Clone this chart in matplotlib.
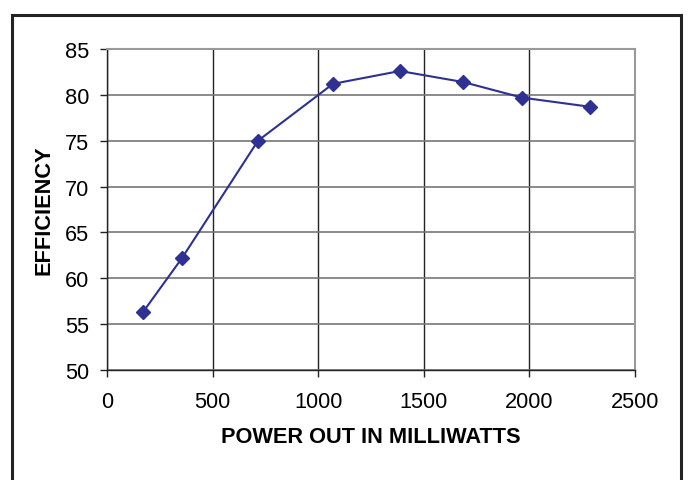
import matplotlib
matplotlib.use("Agg")
import matplotlib.pyplot as plt
from matplotlib.patches import Rectangle

plt.rcParams['font.family'] = ['Liberation Sans', 'DejaVu Sans']

power_mw = [170, 355, 715, 1070, 1387, 1686, 1965, 2287]
efficiency = [56.3, 62.2, 75.0, 81.2, 82.6, 81.4, 79.7, 78.7]

fig = plt.figure(figsize=(6.89, 4.81), dpi=100)
W, H = 689, 481

# outer frame (bottom runs off the image)
fig.patches.append(Rectangle((12 / W, -0.05), (681 - 12) / W, (473 - 8) / H + 0.05,
                             transform=fig.transFigure, fill=False,
                             edgecolor='#222222', linewidth=2.2))

ax = fig.add_axes([107 / W, 1 - 371 / H, (635 - 107) / W, (371 - 50) / H])
ax.plot(power_mw, efficiency, color='#2e3192', linewidth=1.5,
        marker='D', markersize=7, markerfacecolor='#2e3192', markeredgecolor='#2e3192')

ax.set_xlim(0, 2500)
ax.set_ylim(50, 85)
ax.set_xticks(range(0, 2501, 500))
ax.set_yticks(range(50, 86, 5))
ax.xaxis.grid(True, color='#222222', linewidth=1.0)
ax.yaxis.grid(True, color='#777777', linewidth=1.2)
ax.set_axisbelow(True)

for side in ['left', 'bottom']:
    ax.spines[side].set_color('#222222')
    ax.spines[side].set_linewidth(1.0)
for side in ['top', 'right']:
    ax.spines[side].set_color('#999999')
    ax.spines[side].set_linewidth(1.5)

ax.tick_params(direction='out', length=5, width=1, color='#222222', labelsize=15.7)
ax.tick_params(axis='x', pad=10)
ax.tick_params(axis='y', pad=8)
ax.set_xlabel('POWER OUT IN MILLIWATTS', fontsize=15.7, fontweight='bold', labelpad=10)
ax.set_ylabel('EFFICIENCY', fontsize=15.7, fontweight='bold', labelpad=7)

fig.savefig('out.png', dpi=100)
